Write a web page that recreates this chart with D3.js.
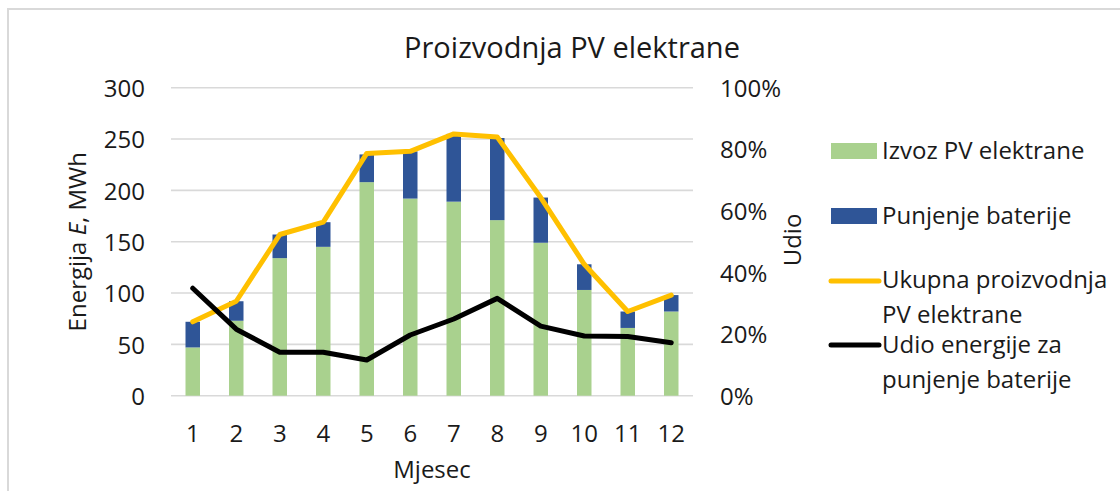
<!DOCTYPE html>
<html>
<head>
<meta charset="utf-8">
<script src="https://cdn.jsdelivr.net/npm/d3@7"></script>
<style>
  html, body { margin: 0; padding: 0; background: #fff; }
  svg { display: block; font-family: "Open Sans", "Noto Sans", sans-serif; }
</style>
</head>
<body>
<svg id="chart" width="1120" height="491"></svg>
<script>
// ---- data ----
const months = ["1","2","3","4","5","6","7","8","9","10","11","12"];
const izvozPV = [47, 73, 134, 145, 208, 192, 189, 171, 149, 103, 66, 82];
const punjenjeBaterije = [25, 19, 23, 24, 27, 46, 66, 80, 44, 25, 16, 16];
const ukupnaProizvodnja = [72, 92, 157, 169, 236, 238, 255, 252, 193, 128, 82, 98];
const udioPunjenja = [0.349, 0.216, 0.141, 0.141, 0.116, 0.197, 0.249, 0.316, 0.226, 0.194, 0.192, 0.172];
const leftTicks = [0, 50, 100, 150, 200, 250, 300];
const rightTicks = [0, 0.2, 0.4, 0.6, 0.8, 1.0];
const seriesNames = ["Izvoz PV elektrane", "Punjenje baterije", ["Ukupna proizvodnja", "PV elektrane"], ["Udio energije za", "punjenje baterije"]];
const chartTitle = "Proizvodnja PV elektrane";

// ---- layout ----
const svg = d3.select("#chart");
const plot = {left: 171, right: 693, top: 87.7, bottom: 395.7};
const colors = {green: "#A9D18E", blue: "#2F5597", yellow: "#FFC000", black: "#000000", grid: "#D9D9D9", text: "#1A1A1A"};

// outer chart border
svg.append("rect").attr("x", 8).attr("y", 9).attr("width", 1300).attr("height", 700)
  .attr("fill", "#fff").attr("stroke", "#D9D9D9").attr("stroke-width", 2);

const x = d3.scaleBand().domain(months).range([plot.left, plot.right]).paddingInner(2/3).paddingOuter(1/3);
const y = d3.scaleLinear().domain([0, 300]).range([plot.bottom, plot.top]);
const y2 = d3.scaleLinear().domain([0, 1]).range([plot.bottom, plot.top]);
const cx = d => x(d) + x.bandwidth() / 2;

// gridlines
svg.append("g").selectAll("line").data(leftTicks).join("line")
  .attr("x1", plot.left).attr("x2", plot.right)
  .attr("y1", d => y(d)).attr("y2", d => y(d))
  .attr("stroke", colors.grid).attr("stroke-width", 1.6);

// stacked bars
const stackData = months.map((m, i) => ({m, izvoz: izvozPV[i], punjenje: punjenjeBaterije[i]}));
const stack = d3.stack().keys(["izvoz", "punjenje"])(stackData);
const barColors = [colors.green, colors.blue];
svg.append("g").selectAll("g").data(stack).join("g")
  .attr("fill", (d, i) => barColors[i])
  .selectAll("rect").data(d => d).join("rect")
  .attr("x", d => x(d.data.m)).attr("width", x.bandwidth())
  .attr("y", d => y(d[1])).attr("height", d => y(d[0]) - y(d[1]));

// lines
const lineTotal = d3.line().x((d, i) => cx(months[i])).y(d => y(d));
const lineShare = d3.line().x((d, i) => cx(months[i])).y(d => y2(d));
svg.append("path").datum(ukupnaProizvodnja).attr("d", lineTotal)
  .attr("fill", "none").attr("stroke", colors.yellow).attr("stroke-width", 5)
  .attr("stroke-linejoin", "round").attr("stroke-linecap", "round");
svg.append("path").datum(udioPunjenja).attr("d", lineShare)
  .attr("fill", "none").attr("stroke", colors.black).attr("stroke-width", 5)
  .attr("stroke-linejoin", "round").attr("stroke-linecap", "round");

// axes
const fs = 24;
const axL = svg.append("g").attr("transform", `translate(${plot.left},0)`)
  .call(d3.axisLeft(y).tickValues(leftTicks).tickSize(0).tickPadding(26));
const axR = svg.append("g").attr("transform", `translate(${plot.right},0)`)
  .call(d3.axisRight(y2).tickValues(rightTicks).tickSize(0).tickPadding(27).tickFormat(d3.format(".0%")));
const axB = svg.append("g").attr("transform", `translate(0,${plot.bottom})`)
  .call(d3.axisBottom(x).tickSize(0).tickPadding(29));
[axL, axR, axB].forEach(a => {
  a.select(".domain").remove();
  a.selectAll("text").attr("font-size", fs).attr("font-family", "Open Sans").attr("fill", colors.text);
});
axL.selectAll("text").attr("dy", "0.36em");
axR.selectAll("text").attr("dy", "0.36em");

// title
svg.append("text").attr("x", 572).attr("y", 58).attr("text-anchor", "middle")
  .attr("font-size", 29).attr("fill", colors.text).text(chartTitle);

// axis titles
const yt = svg.append("text").attr("transform", "translate(86,241.7) rotate(-90)")
  .attr("text-anchor", "middle").attr("font-size", fs).attr("fill", colors.text);
yt.append("tspan").text("Energija ");
yt.append("tspan").attr("font-style", "italic").text("E");
yt.append("tspan").text(", MWh");

svg.append("text").attr("transform", "translate(801,240) rotate(-90)")
  .attr("text-anchor", "middle").attr("font-size", fs).attr("fill", colors.text).text("Udio");

svg.append("text").attr("x", (plot.left + plot.right) / 2).attr("y", 478)
  .attr("text-anchor", "middle").attr("font-size", fs).attr("fill", colors.text).text("Mjesec");

// legend
const lg = svg.append("g");
const lx = 831, tx = 882;
lg.append("rect").attr("x", lx).attr("y", 143).attr("width", 46).attr("height", 16).attr("fill", colors.green);
lg.append("text").attr("x", tx).attr("y", 159).attr("font-size", fs).attr("fill", colors.text).text(seriesNames[0]);
lg.append("rect").attr("x", lx).attr("y", 208).attr("width", 46).attr("height", 16).attr("fill", colors.blue);
lg.append("text").attr("x", tx).attr("y", 224).attr("font-size", fs).attr("fill", colors.text).text(seriesNames[1]);
lg.append("line").attr("x1", lx).attr("x2", lx + 48).attr("y1", 281).attr("y2", 281)
  .attr("stroke", colors.yellow).attr("stroke-width", 5).attr("stroke-linecap", "round");
seriesNames[2].forEach((t, i) => lg.append("text").attr("x", tx).attr("y", 288 + i * 35)
  .attr("font-size", fs).attr("fill", colors.text).text(t));
lg.append("line").attr("x1", lx).attr("x2", lx + 48).attr("y1", 345).attr("y2", 345)
  .attr("stroke", colors.black).attr("stroke-width", 5).attr("stroke-linecap", "round");
seriesNames[3].forEach((t, i) => lg.append("text").attr("x", tx).attr("y", 353 + i * 35)
  .attr("font-size", fs).attr("fill", colors.text).text(t));
</script>
</body>
</html>
